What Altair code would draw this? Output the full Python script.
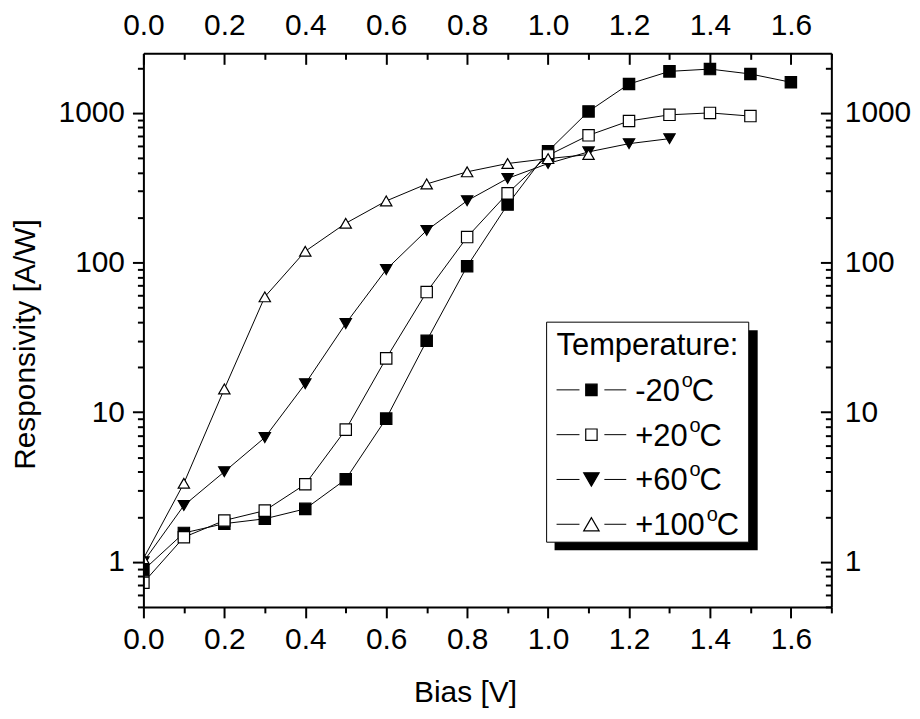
import altair as alt
import pandas as pd

# ---------------- data ----------------
series_names = ["-20°C", "+20°C", "+60°C", "+100°C"]

bias_m20 = [0.0, 0.1, 0.2, 0.3, 0.4, 0.5, 0.6, 0.7, 0.8, 0.9, 1.0, 1.1, 1.2, 1.3, 1.4, 1.5, 1.6]
resp_m20 = [0.88, 1.56, 1.80, 1.94, 2.26, 3.56, 9.06, 30.0, 94.5, 244, 555, 1023, 1560, 1895, 1963, 1820, 1602]

bias_p20 = [0.0, 0.1, 0.2, 0.3, 0.4, 0.5, 0.6, 0.7, 0.8, 0.9, 1.0, 1.1, 1.2, 1.3, 1.4, 1.5]
resp_p20 = [0.725, 1.46, 1.89, 2.20, 3.30, 7.65, 22.9, 63.5, 148, 290, 520, 708, 883, 971, 1000, 952]

bias_p60 = [0.0, 0.1, 0.2, 0.3, 0.4, 0.5, 0.6, 0.7, 0.8, 0.9, 1.0, 1.1, 1.2, 1.3]
resp_p60 = [1.0, 2.38, 4.0, 6.77, 15.5, 39.1, 89.8, 164, 259, 365, 459, 549, 623, 673]

bias_p100 = [0.0, 0.1, 0.2, 0.3, 0.4, 0.5, 0.6, 0.7, 0.8, 0.9, 1.0, 1.1]
resp_p100 = [1.05, 3.35, 14.3, 59.0, 119, 183, 258, 335, 404, 459, 495, 527]

x_major = [0.0, 0.2, 0.4, 0.6, 0.8, 1.0, 1.2, 1.4, 1.6]
x_minor = [0.1, 0.3, 0.5, 0.7, 0.9, 1.1, 1.3, 1.5, 1.7]
y_major = [1, 10, 100, 1000]
y_minor = [0.5, 0.6, 0.7, 0.8, 0.9, 2, 3, 4, 5, 6, 7, 8, 9,
           20, 30, 40, 50, 60, 70, 80, 90, 200, 300, 400, 500, 600, 700, 800, 900, 2000]

shapes = ["square", "square", "triangle-down", "triangle-up"]
fills = ["black", "white", "black", "white"]
sizes = [130, 130, 240, 240]
legend_nums = ["-20", "+20", "+60", "+100"]

# ---------------- build table ----------------
rows = []
for name, bx, ry in [(series_names[0], bias_m20, resp_m20),
                     (series_names[1], bias_p20, resp_p20),
                     (series_names[2], bias_p60, resp_p60),
                     (series_names[3], bias_p100, resp_p100)]:
    for b, r in zip(bx, ry):
        rows.append({"series": name, "bias": b, "resp": r})
df = pd.DataFrame(rows)
one = pd.DataFrame({"k": [0]})

FONT = "Liberation Sans"
W, H = 691, 556
FS = 30
LFS = 31

x_scale = alt.Scale(domain=[0, 1.7], nice=False, zero=False)
y_scale = alt.Scale(type="log", domain=[0.5, 2500], nice=False)

common = dict(grid=False, domainColor="black", tickColor="black", labelColor="black",
              titleColor="black", labelFont=FONT, titleFont=FONT, labelFontSize=FS,
              titleFontSize=FS, titleFontWeight="normal", zindex=1,
              labelFlush=False, labelOverlap=False, labelBound=False)

ax_bottom = alt.Axis(orient="bottom", values=x_major, format=".1f", tickSize=11, tickWidth=2,
                     domainWidth=2, labelPadding=7, title="Bias [V]",
                     titleBaseline="alphabetic", titleY=95, titleX=323, titleAlign="center",
                     **common)
ax_left = alt.Axis(orient="left", values=y_major, format="d", tickSize=11, tickWidth=2,
                   domainWidth=2, labelPadding=8, title="Responsivity [A/W]",
                   titleAngle=270, titleBaseline="alphabetic", titleX=-109, titleY=292,
                   titleAlign="center", **common)

ax_bottom_minor = alt.Axis(orient="bottom", values=x_minor, tickSize=6, tickWidth=2,
                           labels=False, domain=False, title="", **common)
ax_left_minor = alt.Axis(orient="left", values=y_minor, tickSize=6, tickWidth=2,
                         labels=False, domain=False, title="", **common)

ax_top_lab = alt.Axis(orient="top", values=x_major, format=".1f", ticks=False, tickSize=0,
                      domainWidth=2, labelPadding=13, title="", **common)
ax_right_lab = alt.Axis(orient="right", values=y_major, format="d", ticks=False, tickSize=0,
                        domainWidth=2, labelPadding=13, title="", **common)

ax_top_in = alt.Axis(orient="bottom", offset=-H, values=x_major, tickSize=11, tickWidth=2,
                     labels=False, domain=False, title="", **common)
ax_right_in = alt.Axis(orient="left", offset=-W, values=y_major, tickSize=11, tickWidth=2,
                       labels=False, domain=False, title="", **common)

ax_top_in_minor = alt.Axis(orient="bottom", offset=-H, values=x_minor, tickSize=6, tickWidth=2,
                           labels=False, domain=False, title="", **common)
ax_right_in_minor = alt.Axis(orient="left", offset=-W, values=y_minor, tickSize=6, tickWidth=2,
                             labels=False, domain=False, title="", **common)


def xy(xa, ya):
    return dict(x=alt.X("bias:Q", scale=x_scale, axis=xa),
                y=alt.Y("resp:Q", scale=y_scale, axis=ya))


lines = alt.Chart(df).mark_line(color="black", strokeWidth=1, clip=True).encode(
    detail="series:N", **xy(ax_bottom, ax_left))

points = alt.Chart(df).mark_point(filled=True, stroke="black", strokeWidth=1.2, opacity=1,
                                  clip=True).encode(
    shape=alt.Shape("series:N", scale=alt.Scale(domain=series_names, range=shapes), legend=None),
    fill=alt.Fill("series:N", scale=alt.Scale(domain=series_names, range=fills), legend=None),
    size=alt.Size("series:N", scale=alt.Scale(domain=series_names, range=sizes), legend=None),
    **xy(ax_bottom_minor, ax_left_minor))

frame_lab = alt.Chart(df).mark_point(opacity=0).encode(**xy(ax_top_lab, ax_right_lab))
frame_in = alt.Chart(df).mark_point(opacity=0).encode(**xy(ax_top_in, ax_right_in))
frame_in_minor = alt.Chart(df).mark_point(opacity=0).encode(**xy(ax_top_in_minor, ax_right_in_minor))

# ---------------- legend (drawn by hand) ----------------
leg = []
leg.append(alt.Chart(one).mark_rect(fill="black").encode(
    x=alt.value(413), x2=alt.value(617), y=alt.value(278), y2=alt.value(499)))
leg.append(alt.Chart(one).mark_rect(fill="white", stroke="black", strokeWidth=1).encode(
    x=alt.value(405), x2=alt.value(608), y=alt.value(270), y2=alt.value(491)))
leg.append(alt.Chart(one).mark_text(font=FONT, fontSize=LFS, align="left", baseline="alphabetic",
                                    color="black").encode(
    x=alt.value(415), y=alt.value(303), text=alt.value("Temperature:")))

num_w = {"-20": 1.445, "+20": 1.696, "+60": 1.696, "+100": 2.252}
for i, num in enumerate(legend_nums):
    cy = 338 + 45 * i
    leg.append(alt.Chart(one).mark_rule(color="black", strokeWidth=1).encode(
        x=alt.value(415), x2=alt.value(438), y=alt.value(cy)))
    leg.append(alt.Chart(one).mark_rule(color="black", strokeWidth=1).encode(
        x=alt.value(463), x2=alt.value(485), y=alt.value(cy)))
    leg.append(alt.Chart(one).mark_point(shape=shapes[i], size=sizes[i], filled=True,
                                         fill=fills[i], stroke="black", strokeWidth=1.2,
                                         opacity=1).encode(
        x=alt.value(450), y=alt.value(cy)))
    nx = 494
    nend = nx + num_w[num] * LFS
    leg.append(alt.Chart(one).mark_text(font=FONT, fontSize=LFS, align="left",
                                        baseline="alphabetic", color="black").encode(
        x=alt.value(nx), y=alt.value(cy + 11), text=alt.value(num)))
    leg.append(alt.Chart(one).mark_text(font=FONT, fontSize=20, align="left",
                                        baseline="alphabetic", color="black").encode(
        x=alt.value(nend + 2), y=alt.value(cy - 3), text=alt.value("o")))
    leg.append(alt.Chart(one).mark_text(font=FONT, fontSize=LFS, align="left",
                                        baseline="alphabetic", color="black").encode(
        x=alt.value(nend + 12), y=alt.value(cy + 11), text=alt.value("C")))

chart = alt.layer(frame_lab, frame_in, frame_in_minor, lines, points, *leg).resolve_axis(
    x="independent", y="independent"
).properties(
    width=W, height=H,
    autosize=alt.AutoSizeParams(type="none"),
    padding={"left": 136, "top": 44, "right": 81, "bottom": 102},
).configure_view(stroke=None).configure(background="white")

chart.save("out.html", embed_options={"renderer": "svg", "actions": False})
